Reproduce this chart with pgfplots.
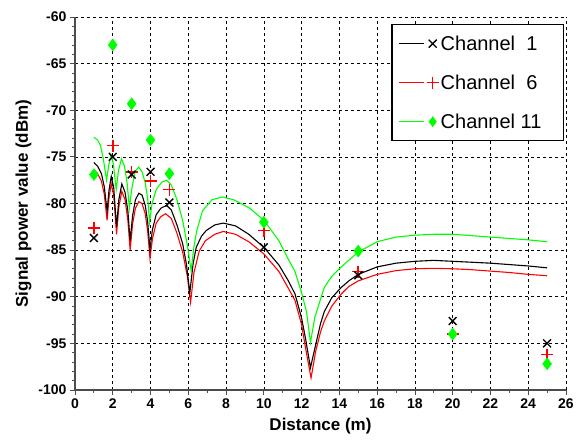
\documentclass[border=0pt]{standalone}
\usepackage{fontspec}
\setmainfont{Liberation Sans}
\usepackage{pgfplots}
\pgfplotsset{compat=1.18}
\definecolor{chgreen}{HTML}{00FF00}
\definecolor{chred}{HTML}{FF0000}

\begin{document}
\begin{tikzpicture}
\useasboundingbox (-75pt,-53pt) rectangle (507pt,390pt);
\begin{axis}[
    at={(0pt,0pt)}, anchor=south west,
    scale only axis,
    width=491pt, height=373pt,
    xmin=0, xmax=26, ymin=-100, ymax=-60,
    xtick={0,2,...,26}, ytick={-100,-95,...,-60},
    minor x tick num=1, minor y tick num=4,
    axis x line*=bottom, axis y line*=left,
    axis line style={line width=1.2pt, black!70},
    tick align=outside,
    major tick length=5pt, minor tick length=3pt,
    tick style={line width=0.8pt, black!70},
    grid=major,
    grid style={black, line width=0.6pt, dash pattern=on 3pt off 3pt},
    /pgf/number format/assume math mode=true,
    tick label style={font=\fontsize{14}{14}\selectfont\bfseries},
    xlabel={Distance (m)},
    ylabel={Signal power value (dBm)},
    label style={font=\fontsize{17}{17}\selectfont\bfseries},
    xlabel style={yshift=-3pt},
    legend cell align=left,
    legend style={at={(rel axis cs:0.996,0.981)}, anchor=north east,
        draw=black, line width=1.2pt, fill=white,
        font=\fontsize{20}{20}\selectfont,
        row sep=19pt, inner xsep=6pt, inner ysep=9pt},
]

% model curves
\addplot[chred, line width=1.1pt, forget plot] coordinates {
(1.0,-76.4)(1.2,-76.8)(1.4,-77.6)(1.55,-79.0)(1.7,-81.8)(1.8,-79.4)(1.92,-77.9)
(2.05,-79.1)(2.2,-83.3)(2.32,-80.4)(2.48,-78.7)(2.65,-79.6)(2.8,-81.8)(2.92,-85.0)
(3.05,-82.2)(3.2,-80.5)(3.38,-79.8)(3.55,-80.0)(3.72,-81.1)(3.85,-83.0)(3.97,-85.9)
(4.1,-83.8)(4.3,-82.1)(4.55,-81.4)(4.8,-81.1)(5.1,-81.6)(5.4,-83.2)(5.7,-85.2)
(5.95,-87.8)(6.12,-90.6)(6.3,-87.4)(6.58,-85.1)(6.9,-84.0)(7.4,-83.3)(7.85,-83.0)
(8.5,-83.3)(9.2,-84.1)(10.0,-85.4)(10.8,-87.3)(11.3,-89.1)(11.65,-90.4)(12.0,-93.0)
(12.2,-95.4)(12.5,-98.7)(12.75,-95.8)(13.0,-93.8)(13.2,-92.6)(13.6,-91.0)(14.1,-89.7)
(14.5,-88.9)(15.0,-88.3)(16.0,-87.6)(17.0,-87.2)(18.0,-87.0)(19.0,-86.95)(20.0,-87.0)
(21.0,-87.1)(22.0,-87.25)(23.0,-87.4)(24.0,-87.6)(25.0,-87.75)};

\addplot[black, line width=1.1pt, forget plot] coordinates {
(1.0,-75.6)(1.2,-76.0)(1.4,-76.8)(1.55,-78.2)(1.7,-80.8)(1.8,-78.6)(1.92,-77.1)
(2.05,-78.3)(2.2,-82.5)(2.32,-79.6)(2.48,-77.9)(2.65,-78.8)(2.8,-80.8)(2.92,-84.0)
(3.05,-81.3)(3.2,-79.6)(3.38,-78.9)(3.55,-79.1)(3.72,-80.2)(3.85,-82.0)(3.97,-84.9)
(4.1,-82.8)(4.3,-81.2)(4.55,-80.5)(4.85,-80.2)(5.1,-80.7)(5.4,-82.3)(5.7,-84.3)
(5.9,-86.5)(6.08,-89.6)(6.25,-86.5)(6.42,-84.7)(6.7,-83.5)(6.95,-82.9)(7.4,-82.3)
(7.85,-82.1)(8.5,-82.4)(9.2,-83.3)(10.0,-84.7)(10.8,-86.6)(11.3,-88.3)(11.65,-89.7)
(12.0,-92.3)(12.2,-94.4)(12.47,-97.6)(12.75,-95.1)(13.0,-92.9)(13.2,-91.6)(13.6,-90.1)
(14.1,-89.0)(14.5,-88.3)(15.0,-87.6)(16.0,-86.8)(17.0,-86.4)(18.0,-86.2)(19.0,-86.1)
(20.0,-86.2)(21.0,-86.3)(22.0,-86.4)(23.0,-86.55)(24.0,-86.7)(25.0,-86.9)};

\addplot[chgreen, line width=1.1pt, forget plot] coordinates {
(1.0,-72.9)(1.2,-73.2)(1.35,-73.8)(1.5,-75.2)(1.67,-77.5)(1.78,-76.0)(1.9,-74.8)
(2.03,-75.7)(2.18,-78.5)(2.3,-76.5)(2.46,-75.2)(2.62,-76.0)(2.76,-77.8)(2.88,-80.5)
(3.0,-78.5)(3.18,-76.6)(3.37,-76.1)(3.55,-76.6)(3.72,-77.8)(3.85,-79.5)(3.95,-82.0)
(4.08,-80.0)(4.3,-78.5)(4.6,-77.7)(4.85,-77.5)(5.1,-78.0)(5.4,-79.6)(5.7,-81.8)
(5.95,-84.5)(6.15,-87.2)(6.3,-84.6)(6.45,-82.9)(6.75,-80.8)(7.25,-79.6)(7.8,-79.3)
(8.4,-79.6)(9.25,-80.5)(10.0,-81.8)(10.8,-84.0)(11.3,-86.0)(11.65,-87.3)(12.0,-89.6)
(12.26,-91.6)(12.47,-94.9)(12.7,-92.2)(13.2,-89.0)(13.6,-87.8)(14.1,-86.8)(15.0,-85.2)
(16.0,-84.1)(17.0,-83.6)(18.0,-83.4)(19.0,-83.3)(20.0,-83.3)(21.0,-83.45)(22.0,-83.6)
(23.0,-83.75)(24.0,-83.9)(25.0,-84.1)};

% measurements
\addplot[only marks, chred, mark=+, mark size=6pt, line width=1.6pt, forget plot] coordinates {
(1,-82.6)(2,-73.8)(3,-76.6)(4,-77.6)(5,-78.5)(10,-82.9)(15,-87.3)(20,-94.0)(25,-96.2)};
\addplot[only marks, black, mark=x, mark size=5.5pt, line width=1.4pt, forget plot] coordinates {
(1,-83.7)(2,-75.0)(3,-76.9)(4,-76.6)(5,-79.9)(10,-84.7)(15,-87.7)(20,-92.6)(25,-95.0)};
\addplot[only marks, mark=diamond*, mark size=6pt, draw=chgreen, fill=chgreen, forget plot] coordinates {
(1,-76.9)(2,-63.0)(3,-69.3)(4,-73.2)(5,-76.8)(10,-82.0)(15,-85.1)(20,-94.0)(25,-97.2)};

% legend: line followed by mark
\addlegendimage{legend image code/.code={
  \draw[draw=black, line width=1.1pt] (0pt,0pt) -- (25pt,0pt);
  \draw[draw=black, line width=1.3pt] (30pt,-4pt) -- (38pt,4pt) (30pt,4pt) -- (38pt,-4pt);}}
\addlegendentry{Channel\ \ 1\hspace*{18pt}}
\addlegendimage{legend image code/.code={
  \draw[draw=chred, line width=1.1pt] (0pt,0pt) -- (25pt,0pt);
  \draw[draw=chred, line width=1.6pt] plot[mark=+, mark size=6pt] coordinates {(34pt,0pt)};}}
\addlegendentry{Channel\ \ 6}
\addlegendimage{legend image code/.code={
  \draw[draw=chgreen, line width=1.3pt] (0pt,0pt) -- (25pt,0pt);
  \draw[draw=chgreen, fill=chgreen, line width=0.5pt] plot[mark=diamond*, mark size=5pt] coordinates {(34pt,0pt)};}}
\addlegendentry{Channel 11}
\end{axis}
\end{tikzpicture}
\end{document}
